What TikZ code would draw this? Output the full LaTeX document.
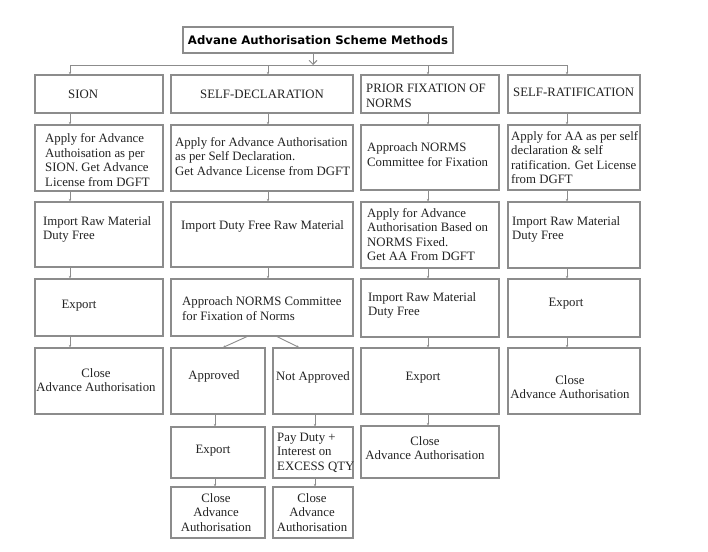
\documentclass[tikz,border=0pt]{standalone}
\usepackage{fontspec}
\setmainfont{Liberation Serif}
\newfontfamily\titlefont{DejaVu Sans}
\usetikzlibrary{arrows.meta}
\definecolor{boxline}{RGB}{140,140,140}
\definecolor{txtc}{RGB}{35,35,35}
\newcommand\mybox[5]{\node[box, minimum width={#4-#2}, minimum height={#5-#3}] (#1) at ({(#2+#4)/2},{(#3+#5)/2}) {};}
\begin{document}
\begin{tikzpicture}[x=1pt,y=-1pt,
  box/.style={draw=boxline, line width=1.1pt, inner sep=0pt, fill=white},
  lt/.style={inner sep=0pt, text=txtc, font=\fontsize{12.8}{14.5}\selectfont, align=left, anchor=west},
  ct/.style={inner sep=0pt, text=txtc, font=\fontsize{12.8}{14.5}\selectfont, align=center},
  conn/.style={draw=boxline, line width=0.9pt, -{Stealth[length=2.5pt,width=2.5pt]}},
  plain/.style={draw=boxline, line width=0.9pt}
]
\useasboundingbox[fill=white] (0,0) rectangle (708,551);

% title
\mybox{title}{183}{27}{453}{53}
\node[inner sep=0pt, text=black, font=\titlefont\bfseries\fontsize{11.7}{13}\selectfont] (ttitle) at (318,40) {Advane Authorisation Scheme Methods};

% column 1
\mybox{sion}{35}{75}{163}{113}
\mybox{applyA}{35}{125}{163}{191}
\mybox{importA}{35}{202}{163}{267}
\mybox{exportA}{35}{279}{163}{336}
\mybox{closeA}{35}{348}{163}{414}
% column 2
\mybox{selfdecl}{171}{75}{353}{113}
\mybox{applyB}{171}{125}{353}{191}
\mybox{importB}{171}{202}{353}{267}
\mybox{approachB}{171}{279}{353}{336}
\mybox{approved}{171}{348}{265}{414}
\mybox{notappr}{273}{348}{353}{414}
\mybox{exportB}{171}{427}{265}{478}
\mybox{pay}{273}{427}{353}{478}
\mybox{closeB}{171}{487}{265}{538}
\mybox{closeC}{273}{487}{353}{538}
% column 3
\mybox{prior}{361}{75}{499}{113}
\mybox{approachD}{361}{125}{499}{190}
\mybox{applyD}{361}{202}{499}{268}
\mybox{importD}{361}{279}{499}{337}
\mybox{exportD}{361}{348}{499}{414}
\mybox{closeD}{361}{426}{499}{478}
% column 4
\mybox{selfrat}{508}{75}{640}{113}
\mybox{applyE}{508}{125}{640}{190}
\mybox{importE}{508}{202}{640}{268}
\mybox{exportE}{508}{279}{640}{337}
\mybox{closeE}{508}{348}{640}{414}

% texts column 1
\node[lt] (t-sion) at (68,94) {SION};
\node[lt] (t-applyA) at (45,160) {Apply for Advance\\Authoisation as per\\SION. Get Advance\\License from DGFT};
\node[lt] (t-importA) at (43,229.5) {Import Raw Material\\Duty Free};
\node[ct] (t-exportA) at (79,306) {Export};
\node[ct] (t-closeA) at (96,380) {Close\\Advance Authorisation};
% texts column 2
\node[lt] (t-selfdecl) at (200,94) {SELF-DECLARATION};
\node[lt] (t-applyB) at (175,156.5) {Apply for Advance Authorisation\\as per Self Declaration.\\Get Advance License from DGFT};
\node[lt] (t-importB) at (181,226) {Import Duty Free Raw Material};
\node[lt] (t-approachB) at (182,308.5) {Approach NORMS Committee\\for Fixation of Norms};
\node[ct] (t-approved) at (214,376) {Approved};
\node[ct] (t-notappr) at (313,377) {Not Approved};
\node[ct] (t-exportB) at (213,451) {Export};
\node[lt] (t-pay) at (277,452.5) {Pay Duty +\\Interest on\\EXCESS QTY};
\node[ct] (t-closeB) at (216,512.5) {Close\\Advance\\Authorisation};
\node[ct] (t-closeC) at (312,512.5) {Close\\Advance\\Authorisation};
% texts column 3
\node[lt] (t-prior) at (366,96) {PRIOR FIXATION OF\\NORMS};
\node[lt] (t-approachD) at (367,154.5) {Approach NORMS\\Committee for Fixation};
\node[lt] (t-applyD) at (367,234.5) {Apply for Advance\\Authorisation Based on\\NORMS Fixed.\\Get AA From DGFT};
\node[lt] (t-importD) at (368,305.5) {Import Raw Material\\Duty Free};
\node[ct] (t-exportD) at (423,378) {Export};
\node[ct] (t-closeD) at (425,448) {Close\\Advance Authorisation};
% texts column 4
\node[lt] (t-selfrat) at (513,92) {SELF-RATIFICATION};
\node[lt] (t-applyE) at (511,157.5) {Apply for AA as per self\\declaration \& self\\ratification. Get License\\from DGFT};
\node[lt] (t-importE) at (512,229.5) {Import Raw Material\\Duty Free};
\node[ct] (t-exportE) at (566,304) {Export};
\node[ct] (t-closeE) at (570,387) {Close\\Advance Authorisation};

% column x positions
\coordinate (c1) at (70,0);
\coordinate (c2) at (268,0);
\coordinate (c3) at (428,0);
\coordinate (c4) at (567,0);
\coordinate (c5) at (215,0);
\coordinate (c6) at (315,0);
\coordinate (tc) at (313,0);
\coordinate (bus1) at (70,65);
\coordinate (bus4) at (567,65);

% title arrow and bus
\draw[plain, -{Straight Barb[length=4pt,width=8pt]}] (title.south -| tc) -- (tc |- bus1);
\draw[plain] (bus1) -- (bus4);
\draw[conn] (bus1) -- (sion.north -| c1);
\draw[conn] (c2 |- bus1) -- (selfdecl.north -| c2);
\draw[conn] (c3 |- bus1) -- (prior.north -| c3);
\draw[conn] (bus4) -- (selfrat.north -| c4);

% column 1 connectors
\draw[conn] (sion.south -| c1) -- (applyA.north -| c1);
\draw[conn] (applyA.south -| c1) -- (importA.north -| c1);
\draw[conn] (importA.south -| c1) -- (exportA.north -| c1);
\draw[conn] (exportA.south -| c1) -- (closeA.north -| c1);
% column 2 connectors
\draw[conn] (selfdecl.south -| c2) -- (applyB.north -| c2);
\draw[conn] (applyB.south -| c2) -- (importB.north -| c2);
\draw[conn] (importB.south -| c2) -- (approachB.north -| c2);
\coordinate (d1) at (247,0);
\coordinate (d2) at (223,0);
\coordinate (d3) at (277,0);
\coordinate (d4) at (299,0);
\draw[conn] (approachB.south -| d1) -- (approved.north -| d2);
\draw[conn] (approachB.south -| d3) -- (notappr.north -| d4);
\draw[conn] (approved.south -| c5) -- (exportB.north -| c5);
\draw[conn] (exportB.south -| c5) -- (closeB.north -| c5);
\draw[conn] (notappr.south -| c6) -- (pay.north -| c6);
\draw[conn] (pay.south -| c6) -- (closeC.north -| c6);
% column 3 connectors
\draw[conn] (prior.south -| c3) -- (approachD.north -| c3);
\draw[conn] (approachD.south -| c3) -- (applyD.north -| c3);
\draw[conn] (applyD.south -| c3) -- (importD.north -| c3);
\draw[conn] (importD.south -| c3) -- (exportD.north -| c3);
\draw[conn] (exportD.south -| c3) -- (closeD.north -| c3);
% column 4 connectors
\draw[conn] (selfrat.south -| c4) -- (applyE.north -| c4);
\draw[conn] (applyE.south -| c4) -- (importE.north -| c4);
\draw[conn] (importE.south -| c4) -- (exportE.north -| c4);
\draw[conn] (exportE.south -| c4) -- (closeE.north -| c4);
\end{tikzpicture}
\end{document}
